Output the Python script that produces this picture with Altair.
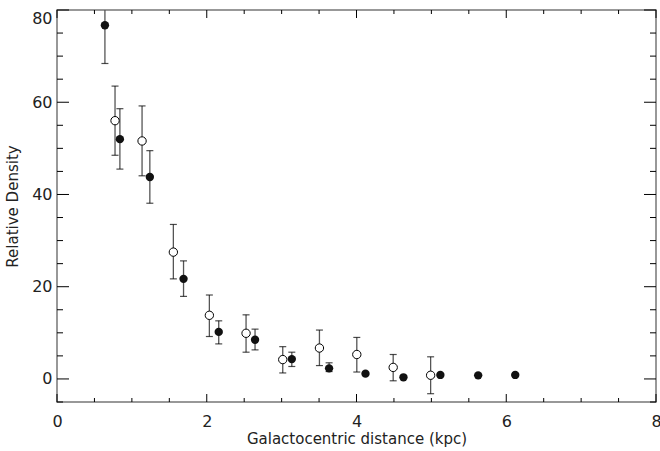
import altair as alt
import pandas as pd

# Filled circles
filled_x = [0.64, 0.84, 1.24, 1.69, 2.16, 2.645, 3.136, 3.634, 4.12, 4.627, 5.12, 5.625, 6.12]
filled_y = [76.7, 52.0, 43.8, 21.7, 10.2, 8.5, 4.3, 2.3, 1.15, 0.35, 0.87, 0.78, 0.87]
filled_lo = [68.4, 45.5, 38.1, 17.9, 7.6, 6.3, 2.7, 1.6, 1.15, 0.35, 0.87, 0.78, 0.87]
filled_hi = [85.0, 58.6, 49.5, 25.6, 12.6, 10.8, 5.8, 3.5, 1.15, 0.35, 0.87, 0.78, 0.87]

# Open circles
open_x = [0.775, 1.136, 1.554, 2.035, 2.525, 3.015, 3.505, 4.004, 4.49, 4.99]
open_y = [56.0, 51.6, 27.5, 13.8, 9.9, 4.2, 6.7, 5.3, 2.5, 0.8]
open_lo = [48.5, 44.05, 21.7, 9.2, 5.8, 1.3, 2.9, 1.5, -0.4, -3.2]
open_hi = [63.5, 59.2, 33.5, 18.2, 13.9, 7.0, 10.6, 9.0, 5.3, 4.8]

x_major = [0, 2, 4, 6, 8]
x_minor = [0.5, 1, 1.5, 2.5, 3, 3.5, 4.5, 5, 5.5, 6.5, 7, 7.5]
y_major = [0, 20, 40, 60, 80]
y_minor = [-5, 5, 10, 15, 25, 30, 35, 45, 50, 55, 65, 70, 75]

W, H = 599, 392

df_f = pd.DataFrame({"x": filled_x, "y": filled_y, "lo": filled_lo, "hi": filled_hi})
df_o = pd.DataFrame({"x": open_x, "y": open_y, "lo": open_lo, "hi": open_hi})
df = pd.concat([df_f, df_o], ignore_index=True)

xs = alt.Scale(domain=[0, 8], nice=False, zero=False)
ys = alt.Scale(domain=[-5, 80], nice=False, zero=False)

FONT = "DejaVu Sans"
TXT = "#222222"

x_axis = alt.Axis(
    orient="bottom", values=x_major, ticks=False, domain=False, grid=False,
    labelFont=FONT, labelFontSize=16, labelColor=TXT, labelPadding=11, format="d",
    labelFlush=False,
    title="Galactocentric distance (kpc)", titleFont=FONT, titleFontSize=15,
    titleColor=TXT, titleFontWeight="normal", titleBaseline="middle", titleY=36,
)
y_axis = alt.Axis(
    orient="left", values=y_major, ticks=False, domain=False, grid=False,
    labelFont=FONT, labelFontSize=16, labelColor=TXT, labelPadding=5, format="d",
    labelFlush=True,
    title="Relative Density", titleFont=FONT, titleFontSize=15,
    titleColor=TXT, titleFontWeight="normal", titleBaseline="middle", titleX=-45,
)

bars = alt.Chart(df).mark_rule(color="#555555", strokeWidth=1.3, clip=True).encode(
    x=alt.X("x:Q", scale=xs, axis=x_axis),
    y=alt.Y("lo:Q", scale=ys, axis=y_axis),
    y2="hi:Q",
)

caps_lo = alt.Chart(df).mark_tick(orient="horizontal", size=7, thickness=1.2, color="black", clip=True).encode(
    x=alt.X("x:Q", scale=xs, axis=None),
    y=alt.Y("lo:Q", scale=ys, axis=None),
)
caps_hi = alt.Chart(df).mark_tick(orient="horizontal", size=7, thickness=1.2, color="black", clip=True).encode(
    x=alt.X("x:Q", scale=xs, axis=None),
    y=alt.Y("hi:Q", scale=ys, axis=None),
)

open_pts = alt.Chart(df_o).mark_point(shape="circle", size=70, filled=False, fill="white",
                                      stroke="black", strokeWidth=1, opacity=1).encode(
    x=alt.X("x:Q", scale=xs, axis=None),
    y=alt.Y("y:Q", scale=ys, axis=None),
)

filled_pts = alt.Chart(df_f).mark_point(shape="circle", size=70, filled=True, color="#111111",
                                        opacity=1).encode(
    x=alt.X("x:Q", scale=xs, axis=None),
    y=alt.Y("y:Q", scale=ys, axis=None),
)


def xticks(values, y0, y1):
    return alt.Chart(pd.DataFrame({"t": values})).mark_rule(color="black", strokeWidth=1).encode(
        x=alt.X("t:Q", scale=xs, axis=None), y=alt.value(y0), y2=alt.value(y1))


def yticks(values, x0, x1):
    return alt.Chart(pd.DataFrame({"t": values})).mark_rule(color="black", strokeWidth=1).encode(
        y=alt.Y("t:Q", scale=ys, axis=None), x=alt.value(x0), x2=alt.value(x1))


tick_layers = [
    xticks(x_major, H, H - 8), xticks(x_minor, H, H - 4),
    xticks(x_major, 0, 8), xticks(x_minor, 0, 4),
    yticks(y_major, 0, 12), yticks(y_minor, 0, 6),
    yticks(y_major, W, W - 12), yticks(y_minor, W, W - 6),
]

chart = alt.layer(bars, caps_lo, caps_hi, open_pts, filled_pts, *tick_layers).resolve_axis(
    x="independent", y="independent"
).properties(
    width=W, height=H,
    autosize=alt.AutoSizeParams(type="none"),
    padding={"left": 57, "top": 10, "right": 4, "bottom": 49},
    background="white",
).configure_view(
    stroke="#777777", strokeWidth=1.5
)

chart.save("out.html", embed_options={"renderer": "svg", "actions": False})
